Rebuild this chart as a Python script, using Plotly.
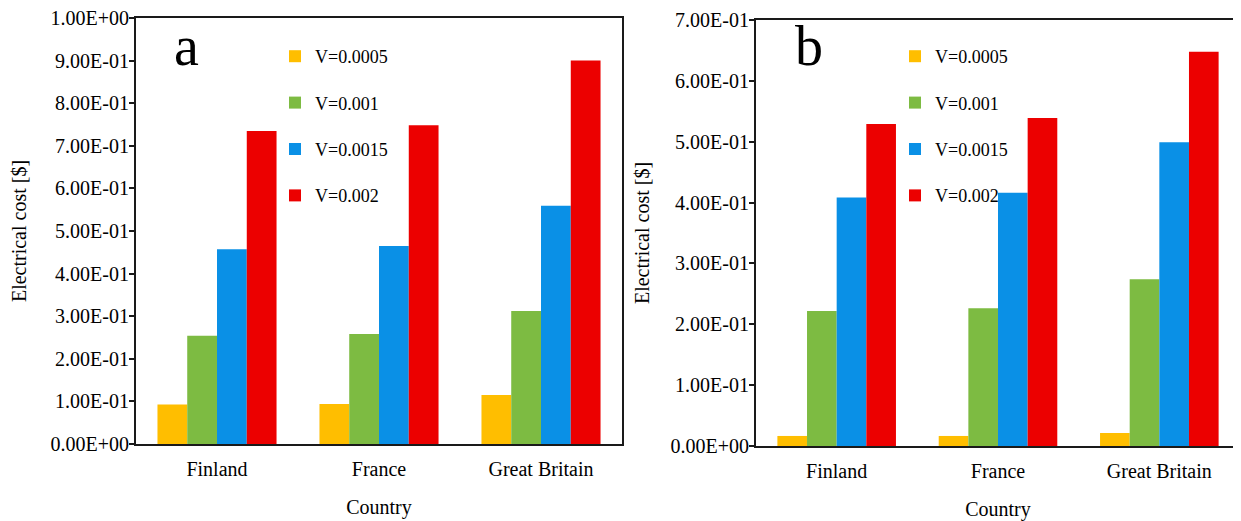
import plotly.graph_objects as go

countries = ["Finland", "France", "Great Britain"]
series_names = ["V=0.0005", "V=0.001", "V=0.0015", "V=0.002"]

# Panel a values
a_v0005 = [0.093, 0.094, 0.115]
a_v001 = [0.254, 0.258, 0.312]
a_v0015 = [0.457, 0.465, 0.559]
a_v002 = [0.735, 0.748, 0.900]

# Panel b values
b_v0005 = [0.0165, 0.0165, 0.0214]
b_v001 = [0.222, 0.2265, 0.274]
b_v0015 = [0.4085, 0.416, 0.499]
b_v002 = [0.529, 0.539, 0.648]

a_tickvals = [0.0, 0.1, 0.2, 0.3, 0.4, 0.5, 0.6, 0.7, 0.8, 0.9, 1.0]
a_ticktext = ["0.00E+00", "1.00E-01", "2.00E-01", "3.00E-01", "4.00E-01", "5.00E-01",
              "6.00E-01", "7.00E-01", "8.00E-01", "9.00E-01", "1.00E+00"]
b_tickvals = [0.0, 0.1, 0.2, 0.3, 0.4, 0.5, 0.6, 0.7]
b_ticktext = ["0.00E+00", "1.00E-01", "2.00E-01", "3.00E-01", "4.00E-01", "5.00E-01",
              "6.00E-01", "7.00E-01"]

colors = ["#FFBE00", "#7DBB42", "#0A90E6", "#EC0000"]
FONT = "Liberation Serif"

# figure size (page has an 8px body margin)
W, H = 1233, 513
OFF = 8


def px(xs):
    return (xs - OFF) / W


def py(ys):
    return 1 - (ys - OFF) / H


fig = go.Figure()
a_series = [a_v0005, a_v001, a_v0015, a_v002]
b_series = [b_v0005, b_v001, b_v0015, b_v002]
for i, (name, vals) in enumerate(zip(series_names, a_series)):
    fig.add_trace(go.Bar(x=countries, y=vals, name=name, marker_color=colors[i],
                         marker_line_width=0, xaxis="x", yaxis="y",
                         legend="legend", legendgroup="a" + str(i)))
for i, (name, vals) in enumerate(zip(series_names, b_series)):
    fig.add_trace(go.Bar(x=countries, y=vals, name=name, marker_color=colors[i],
                         marker_line_width=0, xaxis="x2", yaxis="y2",
                         legend="legend2", legendgroup="b" + str(i)))

axis_common = dict(showline=True, linecolor="#1a1a1a", linewidth=2, mirror=True,
                   showgrid=False, zeroline=False, automargin=False,
                   ticklabeloverflow="allow",
                   tickfont=dict(family=FONT, size=20, color="black"))
xaxis_extra = dict(ticks="", ticklabelstandoff=6)
yaxis_extra = dict(ticks="outside", ticklen=5, tickwidth=1.5, tickcolor="#1a1a1a",
                   ticklabelstandoff=-4)

fig.update_layout(
    width=W, height=H,
    margin=dict(l=0, r=0, t=0, b=0, autoexpand=False),
    paper_bgcolor="white", plot_bgcolor="white",
    barmode="group", bargap=0.265, bargroupgap=0,
    font=dict(family=FONT, size=20, color="black"),
    xaxis=dict(domain=[px(136), px(622)], anchor="y",
               title=dict(text="Country", font=dict(family=FONT, size=20), standoff=21),
               **xaxis_extra, **axis_common),
    yaxis=dict(domain=[py(444), py(18)], anchor="x", range=[0, 1.0],
               tickvals=a_tickvals, ticktext=a_ticktext,
               title=dict(text="Electrical cost [$]", font=dict(family=FONT, size=20), standoff=19),
               **yaxis_extra, **axis_common),
    xaxis2=dict(domain=[px(756), px(1240)], anchor="y2",
                title=dict(text="Country", font=dict(family=FONT, size=20), standoff=21),
                **xaxis_extra, **axis_common),
    yaxis2=dict(domain=[py(446), py(20)], anchor="x2", range=[0, 0.7],
                tickvals=b_tickvals, ticktext=b_ticktext,
                title=dict(text="Electrical cost [$]", font=dict(family=FONT, size=20), standoff=16),
                **yaxis_extra, **axis_common),
    legend=dict(x=px(275), y=py(38), xanchor="left", yanchor="top",
                bgcolor="rgba(0,0,0,0)", tracegroupgap=20,
                font=dict(family=FONT, size=18)),
    legend2=dict(x=px(895), y=py(38), xanchor="left", yanchor="top",
                 bgcolor="rgba(0,0,0,0)", tracegroupgap=20,
                 font=dict(family=FONT, size=18)),
    showlegend=True,
    annotations=[
        dict(text="a", x=px(172), y=py(13), xref="paper", yref="paper",
             showarrow=False, font=dict(family=FONT, size=56, color="black")),
        dict(text="b", x=px(809), y=py(13), xref="paper", yref="paper",
             showarrow=False, font=dict(family=FONT, size=56, color="black")),
    ],
)

fig.write_html("out.html")
